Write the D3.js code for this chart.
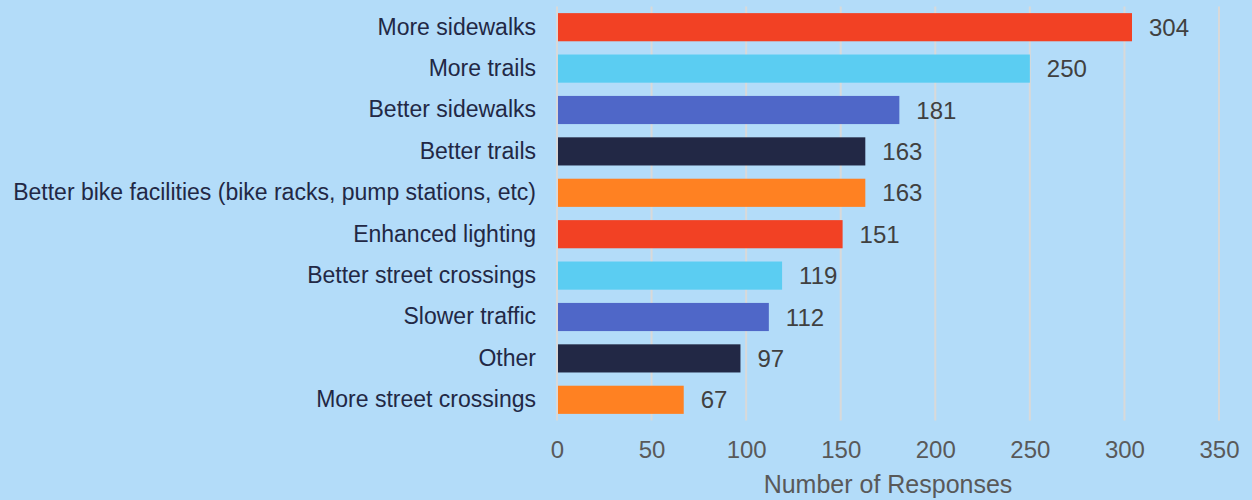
<!DOCTYPE html>
<html><head><meta charset="utf-8">
<script src="https://cdn.jsdelivr.net/npm/d3@7"></script>
<style>html,body{margin:0;padding:0;background:#B3DCF9;}svg{display:block;}</style>
</head><body><svg id="c" width="1252" height="500"></svg>
<script>
const categories = ["More sidewalks","More trails","Better sidewalks","Better trails","Better bike facilities (bike racks, pump stations, etc)","Enhanced lighting","Better street crossings","Slower traffic","Other","More street crossings"];
const values = [304,250,181,163,163,151,119,112,97,67];
const colors = ["#F24124","#5BCDF2","#4F67C8","#222845","#FF8122","#F24124","#5BCDF2","#4F67C8","#222845","#FF8122"];
const tickValues = [0,50,100,150,200,250,300,350];
const axisTitle = "Number of Responses";

const svg = d3.select("#c");
const W = 1252, H = 500;
svg.append("rect").attr("width",W).attr("height",H).attr("fill","#B3DCF9");
const m = {left:557, right:1219, top:6.5, bottom:420.5};
const x = d3.scaleLinear().domain([0,350]).range([m.left,m.right]);
const y = d3.scaleBand().domain(categories).range([m.top,m.bottom]).paddingInner(0.32).paddingOuter(0.16);
const font = "'Liberation Sans', Arial, sans-serif";

// gridlines
svg.append("g").selectAll("line").data(tickValues).join("line")
  .attr("x1",d=>x(d)).attr("x2",d=>x(d)).attr("y1",m.top).attr("y2",m.bottom)
  .attr("stroke","#D9D9D9").attr("stroke-width",2);

// bars
svg.append("g").selectAll("rect").data(categories).join("rect")
  .attr("x",x(0)+1).attr("y",d=>y(d)).attr("height",y.bandwidth())
  .attr("width",(d,i)=>x(values[i])-x(0)-1).attr("fill",(d,i)=>colors[i]);

// value labels
svg.append("g").selectAll("text").data(categories).join("text")
  .attr("x",(d,i)=>x(values[i])+17).attr("y",d=>y(d)+y.bandwidth()/2)
  .attr("dy","0.36em").attr("fill","#404040").attr("font-family",font).attr("font-size",24)
  .text((d,i)=>values[i]);

// category labels
const ya = d3.axisLeft(y).tickSize(0).tickPadding(21);
const gy = svg.append("g").attr("transform",`translate(${m.left},0)`).call(ya);
gy.select(".domain").remove();
gy.selectAll("text").attr("fill","#222845").attr("font-family",font).attr("font-size",23);

// x axis
const xa = d3.axisBottom(x).tickValues(tickValues).tickSize(0).tickPadding(20);
const gx = svg.append("g").attr("transform",`translate(0,${m.bottom})`).call(xa);
gx.select(".domain").remove();
gx.selectAll("text").attr("fill","#595959").attr("font-family",font).attr("font-size",24);

svg.append("text").attr("x",888).attr("y",493).attr("text-anchor","middle")
  .attr("fill","#595959").attr("font-family",font).attr("font-size",25).text(axisTitle);
</script></body></html>
